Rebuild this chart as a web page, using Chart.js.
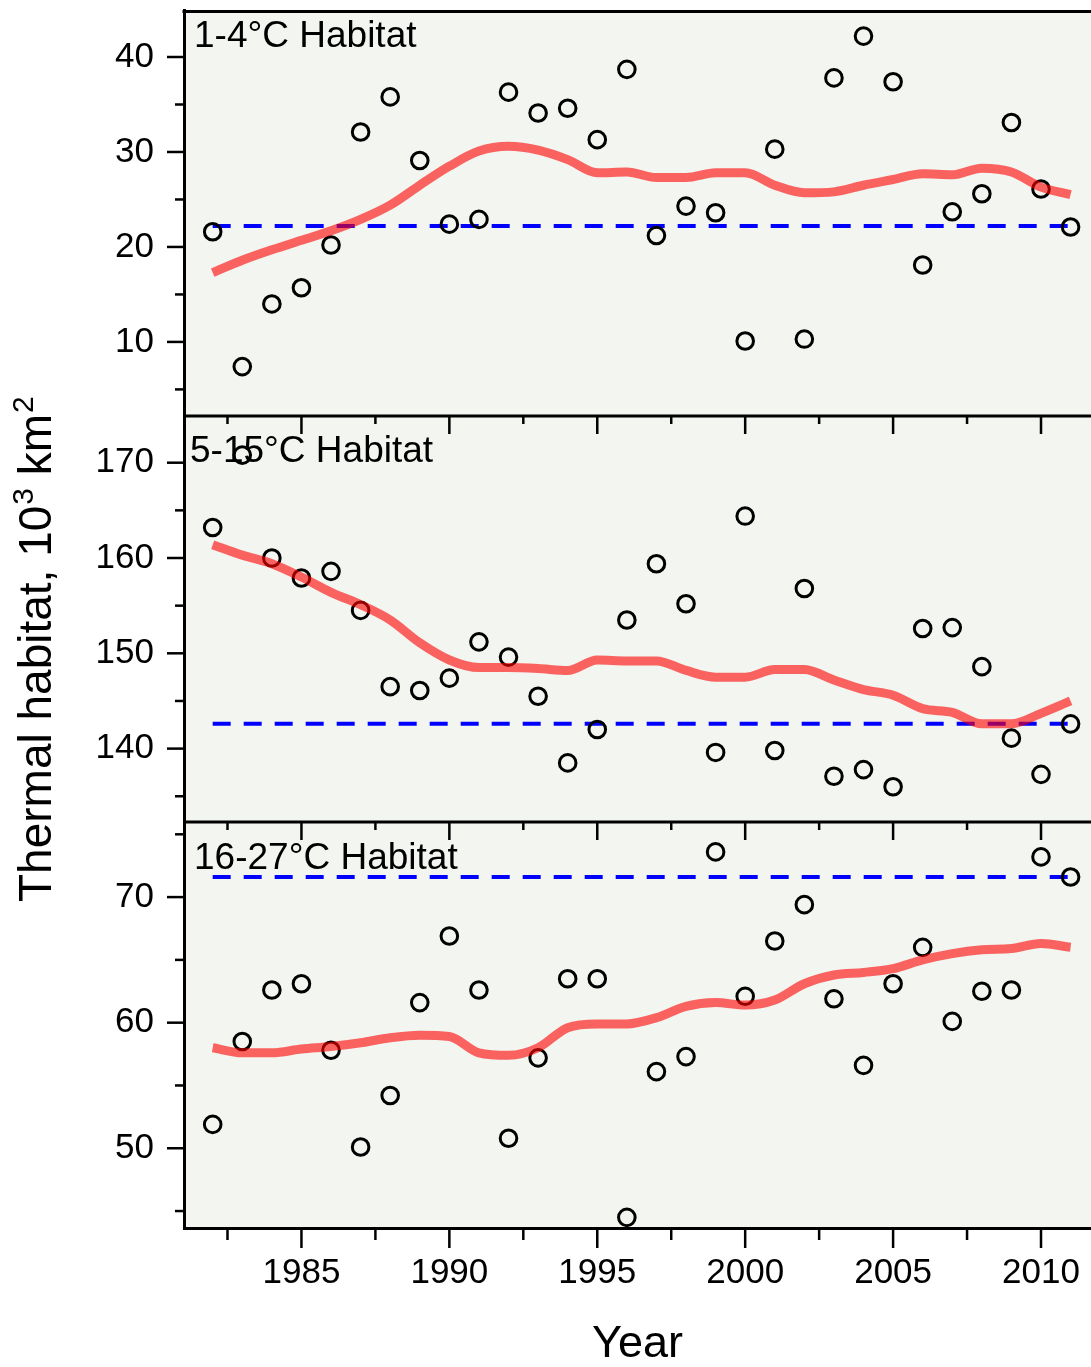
<!DOCTYPE html>
<html>
<head>
<meta charset="utf-8">
<script src="https://cdn.jsdelivr.net/npm/chart.js@4/dist/chart.umd.min.js"></script>
<style>
html,body{margin:0;padding:0;background:#ffffff;overflow:hidden}
#wrap{width:1091px;height:1367px;position:relative}
</style>
</head>
<body>
<div id="wrap"><canvas id="c" width="1091" height="1367"></canvas></div>
<script>
// ---------------- DATA ----------------
const years = [1982,1983,1984,1985,1986,1987,1988,1989,1990,1991,1992,1993,1994,1995,1996,1997,1998,1999,2000,2001,2002,2003,2004,2005,2006,2007,2008,2009,2010,2011];

const panelLabels = ['1-4°C Habitat', '5-15°C Habitat', '16-27°C Habitat'];

const habitat1 = [21.6,7.4,14.0,15.7,20.2,32.1,35.8,29.1,22.4,22.9,36.3,34.1,34.6,31.3,38.7,21.2,24.3,23.6,10.1,30.3,10.3,37.8,42.2,37.4,18.1,23.7,25.6,33.1,26.1,22.1];
const smooth1  = [17.3,18.6,19.7,20.7,21.7,22.9,24.4,26.5,28.5,30.1,30.6,30.2,29.2,27.8,27.9,27.3,27.3,27.8,27.8,26.5,25.7,25.8,26.5,27.1,27.7,27.6,28.3,27.9,26.3,25.5];

const habitat2 = [163.2,170.8,160.0,157.9,158.6,154.5,146.5,146.1,147.4,151.2,149.6,145.5,138.5,142.0,153.5,159.4,155.2,139.6,164.4,139.8,156.8,137.1,137.8,136.0,152.6,152.7,148.6,141.1,137.3,142.6];
const smooth2  = [161.4,160.3,159.4,158.0,156.4,155.1,153.5,151.1,149.3,148.5,148.5,148.4,148.2,149.3,149.2,149.2,148.2,147.5,147.5,148.3,148.3,147.2,146.2,145.6,144.2,143.8,142.6,142.6,143.7,145.0];

const habitat3 = [51.9,58.5,62.6,63.1,57.8,50.1,54.2,61.6,66.9,62.6,50.8,57.2,63.5,63.5,44.5,56.1,57.3,73.6,62.1,66.5,69.4,61.9,56.6,63.1,66.0,60.1,62.5,62.6,73.2,71.6];
const smooth3  = [58.0,57.6,57.6,57.9,58.1,58.4,58.8,59.0,58.9,57.6,57.4,58.0,59.6,59.9,59.9,60.4,61.3,61.6,61.4,61.8,63.1,63.8,64.0,64.3,65.0,65.5,65.8,65.9,66.3,66.0];

const referenceLevels = [22.2, 142.6, 71.6];

const xTickValues = [1985,1990,1995,2000,2005,2010];
const xMinorValues = [1982.5,1987.5,1992.5,1997.5,2002.5,2007.5];
const yTicks1 = [10,20,30,40];
const yMinor1 = [5,15,25,35];
const yTicks2 = [140,150,160,170];
const yMinor2 = [135,145,155,165];
const yTicks3 = [50,60,70];
const yMinor3 = [45,55,65,75];

// ---------------- STYLE / LAYOUT ----------------
const FONT = "'Liberation Sans', Arial, sans-serif";
const panels = [
  {id:'y1', obs:habitat1, smooth:smooth1, ref:referenceLevels[0], label:panelLabels[0], ticks:yTicks1, minor:yMinor1, min:2.2,  max:44.95, lx:194, ly:27},
  {id:'y2', obs:habitat2, smooth:smooth2, ref:referenceLevels[1], label:panelLabels[1], ticks:yTicks2, minor:yMinor2, min:132.3,max:174.9, lx:190, ly:36},
  {id:'y3', obs:habitat3, smooth:smooth3, ref:referenceLevels[2], label:panelLabels[2], ticks:yTicks3, minor:yMinor3, min:43.65,max:75.98, lx:194, ly:37}
];

const datasets = [];
panels.forEach(p => {
  datasets.push({
    label: p.label + ' smooth', yAxisID: p.id, xAxisID: 'x',
    data: years.map((y,i) => ({x:y, y:p.smooth[i]})),
    borderColor: 'rgba(255,0,0,0.6)', borderWidth: 9, pointRadius: 0,
    cubicInterpolationMode: 'monotone', fill: false, order: 0
  });
  datasets.push({
    label: p.label, yAxisID: p.id, xAxisID: 'x',
    data: years.map((y,i) => ({x:y, y:p.obs[i]})),
    showLine: false, pointRadius: 8.3, pointBorderWidth: 3,
    pointBorderColor: '#000', pointBackgroundColor: 'rgba(0,0,0,0)', pointStyle: 'circle', order: 1
  });
  datasets.push({
    label: p.label + ' reference', yAxisID: p.id, xAxisID: 'x',
    data: [{x:years[0], y:p.ref}, {x:years[years.length-1], y:p.ref}],
    borderColor: '#0000ff', borderWidth: 4, borderDash: [18,13], pointRadius: 0, fill:false, order: 2
  });
});

const scales = {
  x: {
    type:'linear', position:'bottom', min:1981.03, max:2011.69,
    afterBuildTicks: s => { s.ticks = xTickValues.map(v => ({value:v})); },
    afterFit: s => { s.height = 139; s.paddingLeft = 0; s.paddingRight = 0; },
    grid: {display:true, drawOnChartArea:false, drawTicks:true, tickLength:12, tickColor:'rgba(0,0,0,0)', color:'rgba(0,0,0,0)'},
    border: {display:true, color:'#000', width:3},
    ticks: {color:'#000', font:{family:FONT, size:35}, padding:12, maxRotation:0, autoSkip:false, callback: v => String(v)},
    title: {display:true, text:'Year', color:'#000', font:{family:FONT, size:45, lineHeight:1}, padding:{top:0, bottom:0}}
  }
};
// later-defined stacked scales are placed on top, so define bottom panel first
[...panels].reverse().forEach(p => {
  scales[p.id] = {
    type:'linear', position:'left', stack:'panels', stackWeight:1,
    min:p.min, max:p.max,
    afterBuildTicks: s => { s.ticks = p.ticks.map(v => ({value:v})); },
    afterFit: s => { s.width = 184; s.paddingTop = 0; s.paddingBottom = 0; },
    grid: {display:false, drawTicks:false},
    border: {display:true, color:'#000', width:3},
    ticks: {color:'#000', font:{family:FONT, size:35}, padding:30, callback: v => String(v)}
  };
});

const decor = {
  id:'decor',
  beforeDraw(chart) {
    const {ctx, chartArea:a} = chart;
    ctx.save();
    ctx.fillStyle = '#f2f5f0';
    ctx.fillRect(a.left, a.top, a.right - a.left, a.bottom - a.top);
    ctx.restore();
  },
  beforeDatasetsDraw(chart) {
    const {ctx} = chart;
    ctx.save();
    ctx.fillStyle = '#000';
    ctx.font = '37px ' + FONT;
    ctx.textAlign = 'left';
    ctx.textBaseline = 'middle';
    panels.forEach(p => {
      const s = chart.scales[p.id];
      ctx.fillText(p.label, p.lx, s.top + p.ly);
    });
    ctx.restore();
  },
  afterDraw(chart) {
    const {ctx, chartArea:a} = chart;
    const xs = chart.scales.x;
    ctx.save();
    ctx.strokeStyle = '#000';
    ctx.lineCap = 'butt';
    // y ticks
    ctx.lineWidth = 2.5;
    panels.forEach(p => {
      const s = chart.scales[p.id];
      p.ticks.forEach(v => { const y = s.getPixelForValue(v); ctx.beginPath(); ctx.moveTo(a.left-17, y); ctx.lineTo(a.left, y); ctx.stroke(); });
      p.minor.forEach(v => { const y = s.getPixelForValue(v); if (y < s.top || y > s.bottom) return; ctx.beginPath(); ctx.moveTo(a.left-9, y); ctx.lineTo(a.left, y); ctx.stroke(); });
    });
    // x ticks at top of panels 2 and 3 (inward)
    panels.slice(1).forEach(p => {
      const s = chart.scales[p.id];
      xTickValues.forEach(v => { const x = xs.getPixelForValue(v); ctx.beginPath(); ctx.moveTo(x, s.top); ctx.lineTo(x, s.top+18); ctx.stroke(); });
      xMinorValues.forEach(v => { const x = xs.getPixelForValue(v); ctx.beginPath(); ctx.moveTo(x, s.top); ctx.lineTo(x, s.top+8); ctx.stroke(); });
    });
    // x ticks at bottom (outward)
    xTickValues.forEach(v => { const x = xs.getPixelForValue(v); ctx.beginPath(); ctx.moveTo(x, xs.top); ctx.lineTo(x, xs.top+20); ctx.stroke(); });
    xMinorValues.forEach(v => { const x = xs.getPixelForValue(v); ctx.beginPath(); ctx.moveTo(x, xs.top); ctx.lineTo(x, xs.top+12); ctx.stroke(); });
    // frame: top border + separators
    ctx.lineWidth = 3;
    ctx.beginPath(); ctx.moveTo(a.left-1.5, a.top+1.5); ctx.lineTo(a.right, a.top+1.5); ctx.stroke();
    panels.slice(0,2).forEach(p => {
      const s = chart.scales[p.id];
      ctx.beginPath(); ctx.moveTo(a.left, s.bottom); ctx.lineTo(a.right, s.bottom); ctx.stroke();
    });
    // y axis title with superscripts
    ctx.fillStyle = '#000';
    ctx.translate(51, 902);
    ctx.rotate(-Math.PI/2);
    ctx.textAlign = 'left';
    ctx.textBaseline = 'alphabetic';
    let w = 0;
    const part = (txt, size, dy) => {
      ctx.font = size + 'px ' + FONT;
      ctx.fillText(txt, w, dy);
      w += ctx.measureText(txt).width;
    };
    part('Thermal habitat, 10', 46, 0);
    w += 1;
    part('3', 30, -18);
    part(' km', 46, 0);
    w += 1;
    part('2', 30, -18);
    ctx.restore();
  }
};

new Chart(document.getElementById('c'), {
  type: 'line',
  data: { datasets },
  options: {
    responsive: false,
    devicePixelRatio: 1,
    animation: false,
    layout: { autoPadding: false, padding: {top:10, left:0, right:0, bottom:0} },
    plugins: { legend:{display:false}, tooltip:{enabled:false} },
    scales
  },
  plugins: [decor]
});
</script>
</body>
</html>
